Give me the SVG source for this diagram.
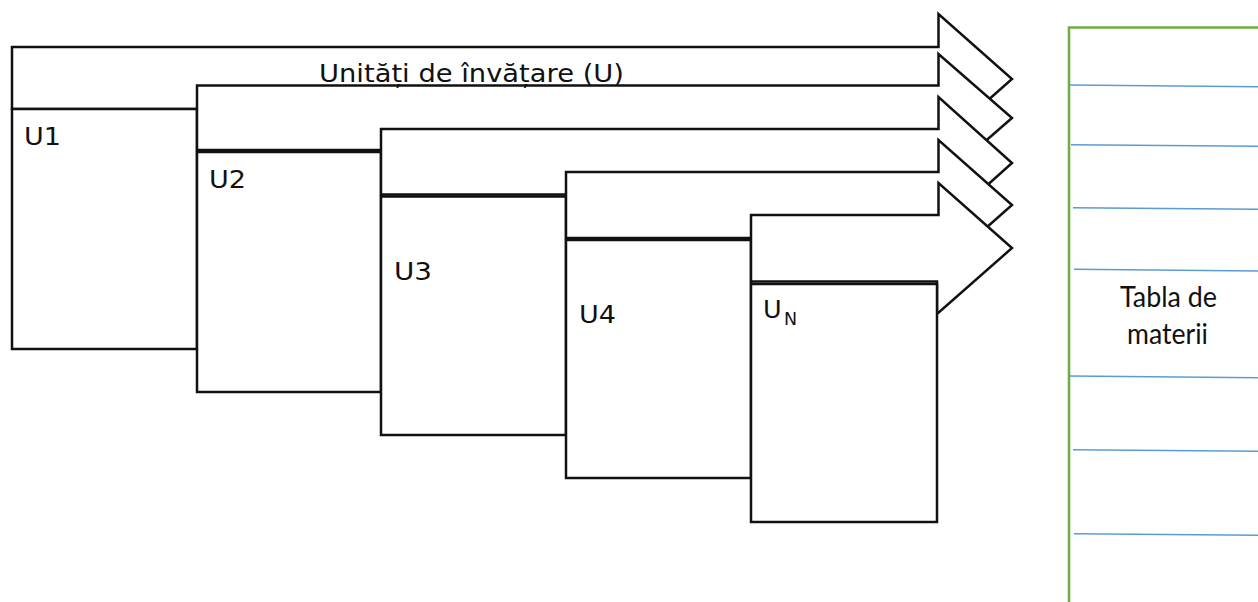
<svg xmlns="http://www.w3.org/2000/svg" width="1258" height="602" viewBox="0 0 1258 602">
<style>
.sh{fill:#fff;stroke:#111;stroke-width:2.5;stroke-linejoin:miter}
.lbl{font-family:"DejaVu Sans",Verdana,sans-serif;font-size:25.5px;fill:#111}
.ttl{font-family:"DejaVu Sans",Verdana,sans-serif;font-size:25px;fill:#111}
.tm{font-family:Lato,"Open Sans",sans-serif;font-size:28.5px;fill:#111;text-anchor:middle}
.bl{stroke:#5B9BD5;stroke-width:1.6;fill:none}
</style>
<rect width="1258" height="602" fill="#fff"/>
<g id="unit1">
<path class="sh" d="M12,47 H938.5 V14 L1012,79 L938.5,144 V109 H12 Z"/>
<rect class="sh" x="12" y="109" width="185" height="240"/>
<text class="lbl" x="24" y="145" textLength="37" lengthAdjust="spacingAndGlyphs">U1</text>
</g>
<g id="unit2">
<path class="sh" d="M197,85.5 H938.5 V54 L1012,118 L938.5,182 V150 H197 Z"/>
<rect class="sh" x="197" y="152" width="184" height="240"/>
<text class="lbl" x="209" y="188" textLength="37" lengthAdjust="spacingAndGlyphs">U2</text>
</g>
<g id="unit3">
<path class="sh" d="M381,129 H938.5 V97 L1012,163 L938.5,229 V194.5 H381 Z"/>
<rect class="sh" x="381" y="196.5" width="185" height="238.5"/>
<text class="lbl" x="394" y="280" textLength="38" lengthAdjust="spacingAndGlyphs">U3</text>
</g>
<g id="unit4">
<path class="sh" d="M566,172 H938.5 V140 L1012,205 L938.5,270 V238 H566 Z"/>
<rect class="sh" x="566" y="240" width="185" height="238"/>
<text class="lbl" x="579" y="323" textLength="37" lengthAdjust="spacingAndGlyphs">U4</text>
</g>
<g id="unitN">
<path class="sh" d="M751,215 H938.5 V183 L1012,248 L937,314 V281.5 H751 Z"/>
<rect class="sh" x="751" y="284" width="186" height="238"/>
<text class="lbl" x="763" y="318">U<tspan font-size="17.5" x="784" y="325">N</tspan></text>
</g>
<g id="title">
<text class="ttl" x="319" y="82" textLength="305" lengthAdjust="spacingAndGlyphs">Unități de învățare (U)</text>
</g>
<g id="table">
<path d="M1069,602 V27.5 H1260" fill="none" stroke="#70AD47" stroke-width="2.6"/>
<line class="bl" x1="1070" y1="85" x2="1258" y2="86.7"/>
<line class="bl" x1="1071" y1="144.7" x2="1258" y2="146.3"/>
<line class="bl" x1="1073" y1="207.7" x2="1258" y2="209.3"/>
<line class="bl" x1="1074" y1="269.3" x2="1258" y2="271"/>
<line class="bl" x1="1070" y1="376" x2="1258" y2="377.7"/>
<line class="bl" x1="1073" y1="449.7" x2="1258" y2="451.3"/>
<line class="bl" x1="1074" y1="533.7" x2="1258" y2="535.3"/>
<text class="tm" x="1168.5" y="307" textLength="97" lengthAdjust="spacingAndGlyphs">Tabla de</text>
<text class="tm" x="1167.5" y="344" textLength="81" lengthAdjust="spacingAndGlyphs">materii</text>
</g>
<g id="connectors"/>
</svg>
